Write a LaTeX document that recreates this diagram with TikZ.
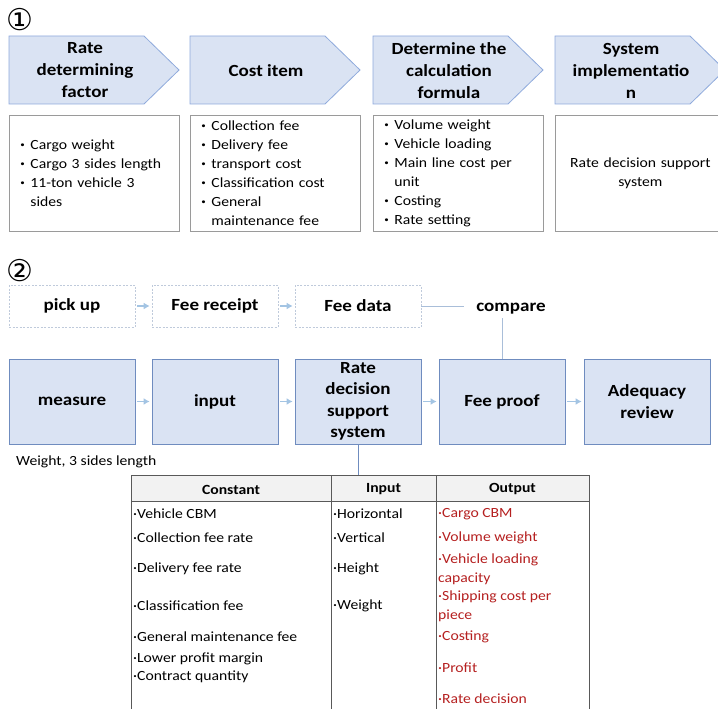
\documentclass[tikz,border=0pt]{standalone}
\usepackage{fontspec}
\setmainfont{Carlito}[FakeStretch=1.12]
\newfontfamily\symfont{DejaVu Sans}
\usetikzlibrary{arrows.meta}

\definecolor{chevfill}{HTML}{DAE3F3}
\definecolor{chevline}{HTML}{8FAADC}
\definecolor{boxline}{HTML}{9A9A9A}
\definecolor{procline}{HTML}{6F8CBF}
\definecolor{dashline}{HTML}{BFCADB}
\definecolor{arrowc}{HTML}{A3C4E3}
\definecolor{linkc}{HTML}{A9BED9}
\definecolor{tabline}{HTML}{595959}
\definecolor{tabhead}{HTML}{F2F2F2}
\definecolor{outred}{HTML}{B52020}

\newcommand{\headfont}{\fontsize{17}{22}\selectfont\bfseries}
\newcommand{\boxfont}{\fontsize{14}{19}\selectfont}
\newcommand{\bitem}{\makebox[10pt][l]{\raisebox{0.35ex}{\fontsize{8}{8}\selectfont\textbullet}}}
\newcommand{\bcont}{\hspace*{10pt}}

\begin{document}
\begin{tikzpicture}[x=1pt, y=-1pt,
  chev/.style={draw=chevline, fill=chevfill, line width=0.8pt},
  headtxt/.style={font=\headfont, align=center},
  listbox/.style={draw=boxline, line width=0.8pt, anchor=north west,
    minimum width=170pt, minimum height=116pt, inner xsep=11pt,
    text width=148pt, align=left, font=\boxfont},
  digit/.style={font=\symfont\fontsize{30}{30}\selectfont, inner sep=0pt},
  dashbox/.style={draw=dashline, dash pattern=on 2pt off 1.5pt, line width=0.6pt,
    minimum width=126pt, minimum height=42pt, font=\headfont},
  procbox/.style={draw=procline, fill=chevfill, line width=0.8pt,
    minimum width=126pt, minimum height=85pt, font=\headfont, align=center},
  flow/.style={draw=arrowc, line width=1.2pt, -{Latex[length=6pt,width=7pt]},
    shorten <=2pt, shorten >=2pt},
  link/.style={draw=linkc, line width=0.8pt},
  cell/.style={anchor=west, inner sep=1pt, font=\boxfont, align=left},
  outcell/.style={cell, text=outred}]
  \useasboundingbox (0,0) rectangle (718,709);

  % part 1: chevrons and their lists
  \node[digit] (one) at (20,20) {①};
  \foreach \x/\nm/\txt in {9/rate/{Rate\\determining\\factor}, 190/cost/{Cost item},
      373/formula/{Determine the\\calculation\\formula}, 555/sysimp/{System\\implementatio\\n}}{
    \draw[chev] (\x,36) -- ++(135,0) -- ++(35,34) -- ++(-35,34) -- ++(-135,0) -- cycle;
    \node[headtxt] (\nm) at (\x+76,70.5) {\txt};
  }
  \node[listbox] (ratelist) at (9,115)
    {\bitem Cargo weight\\ \bitem Cargo 3 sides length\\ \bitem 11-ton vehicle 3\\ \bcont sides};
  \node[listbox] (costlist) at (190,115)
    {\bitem Collection fee\\ \bitem Delivery fee\\ \bitem transport cost\\
     \bitem Classification cost\\ \bitem General\\ \bcont maintenance fee};
  \node[listbox] (formulalist) at (373,115)
    {\bitem Volume weight\\ \bitem Vehicle loading\\ \bitem Main line cost per\\
     \bcont unit\\ \bitem Costing\\ \bitem Rate setting};
  \node[listbox, align=center] (sysimplist) at (555,115) {Rate decision support\\system};

  % part 2: process
  \node[digit] (two) at (20,271) {②};
  \node[dashbox] (pickup) at (72,306) {pick up};
  \node[dashbox] (receipt) at (215,306) {Fee receipt};
  \node[dashbox] (feedata) at (358,306) {Fee data};
  \node[font=\headfont, inner xsep=12pt] (compare) at (511,309) {compare};

  \node[procbox] (measure) at (72,401.5) {measure};
  \node[procbox] (input) at (215,401.5) {input};
  \node[procbox, font=\fontsize{17}{21.5}\selectfont\bfseries] (rdss) at (358,401.5)
    {Rate\\decision\\support\\system};
  \node[procbox] (proof) at (502,401.5) {Fee proof};
  \node[procbox] (review) at (647,401.5) {Adequacy\\review};
  \node[anchor=west, inner sep=2pt, font=\boxfont] (weight) at (14,462) {Weight, 3 sides length};

  \draw[flow] (pickup) -- (receipt);
  \draw[flow] (receipt) -- (feedata);
  \draw[flow] (measure) -- (input);
  \draw[flow] (input) -- (rdss);
  \draw[flow] (rdss) -- (proof);
  \draw[flow] (proof) -- (review);
  \draw[link] (feedata.east) -- (feedata.east -| compare.west);
  \draw[link] (proof.north) -- (proof.north |- compare.south);

  % table under the system
  \coordinate (tabtop) at (358,475);
  \draw[link, draw=procline] (rdss.south) -- (tabtop);
  \fill[tabhead] (131,475) rectangle (589,501);
  \draw[tabline, line width=0.9pt] (131,712) -- (131,475) -- (589,475) -- (589,712);
  \draw[tabline, line width=0.9pt] (131,501) -- (589,501);
  \draw[tabline, line width=0.9pt] (331,475) -- (331,712);
  \draw[tabline, line width=0.9pt] (436,475) -- (436,712);
  \node[font=\boxfont\bfseries] (hconst) at (231,489.5) {Constant};
  \node[font=\boxfont\bfseries] (hinput) at (383.5,489.5) {Input};
  \node[font=\boxfont\bfseries] (houtput) at (512.5,489.5) {Output};

  \foreach \y/\t [count=\i] in {514/Vehicle CBM, 538/Collection fee rate,
      569/Delivery fee  rate, 606/Classification fee, 637/General maintenance fee,
      659/Lower profit margin, 677/Contract quantity}
    \node[cell] (const\i) at (132,\y) {·\t};
  \foreach \y/\t [count=\i] in {514/Horizontal, 538/Vertical, 569/Height, 606/Weight}
    \node[cell] (in\i) at (332,\y) {·\t};
  \node[outcell] (out1) at (437,514) {·Cargo CBM};
  \node[outcell] (out2) at (437,538) {·Volume weight};
  \node[outcell] (out3) at (437,569.5) {·Vehicle loading\\capacity};
  \node[outcell] (out4) at (437,606.5) {·Shipping cost per\\piece};
  \node[outcell] (out5) at (437,637) {·Costing};
  \node[outcell] (out6) at (437,668) {·Profit};
  \node[outcell] (out7) at (437,699) {·Rate decision};
\end{tikzpicture}
\end{document}
